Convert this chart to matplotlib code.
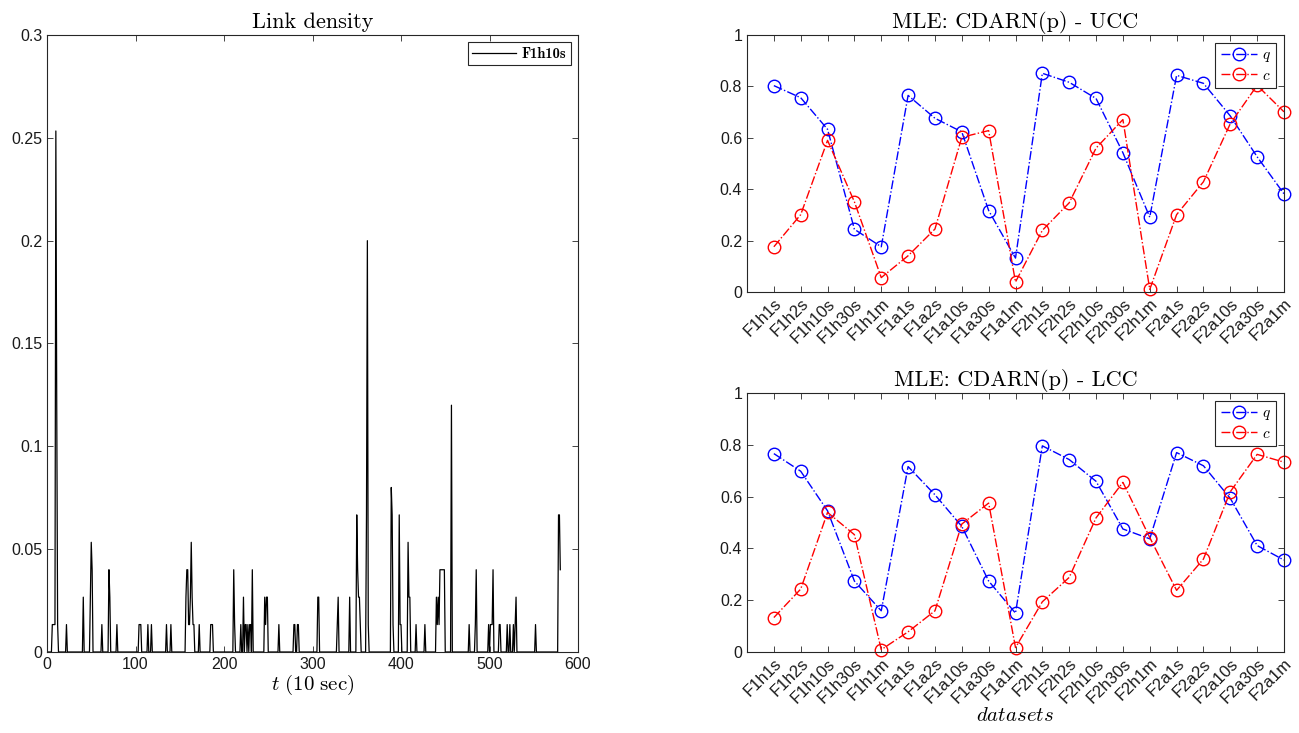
import numpy as np
import matplotlib
matplotlib.use("Agg")
import matplotlib.pyplot as plt

plt.rcParams["mathtext.fontset"] = "cm"
plt.rcParams["font.family"] = ["Liberation Sans", "DejaVu Sans"]

# ---- Link density time series (counts of active links out of 75 pairs) ----
n_steps = 581
link_pairs = 75
spike_times = [6, 7, 8, 9, 10, 11, 12,
               22, 41, 49, 50, 51, 62, 70, 71, 79,
               104, 105, 106, 114, 118, 135, 140,
               157, 158, 159, 160, 161, 162, 163, 164, 165, 166,
               172, 185, 186, 187, 211, 212, 219, 222,
               224, 225, 227, 229, 230, 232,
               246, 247, 248, 249, 262, 279, 280, 283, 284,
               306, 307, 328, 329, 342,
               350, 351, 352, 353, 354, 361, 362, 363,
               389, 390, 391, 398, 399, 400, 408, 409, 410, 417, 427,
               440, 441, 442, 443, 444, 445, 446, 447, 448, 449, 457,
               477, 484, 485, 499, 501, 502, 503, 504, 511, 512,
               520, 523, 527, 529, 530, 552, 578, 579, 580]
spike_counts = [1, 1, 1, 1, 19, 9, 1,
                1, 2, 2, 4, 3, 1, 3, 2, 1,
                1, 1, 1, 1, 1, 1, 1,
                2, 3, 3, 1, 1, 2, 4, 2, 1, 1,
                1, 1, 1, 1, 3, 1, 1, 2,
                1, 1, 1, 1, 1, 3,
                2, 1, 2, 2, 1, 1, 1, 1, 1,
                2, 2, 1, 2, 2,
                5, 3, 2, 2, 1, 5, 15, 1,
                6, 5, 1, 5, 1, 1, 4, 2, 2, 1, 1,
                2, 1, 2, 1, 3, 3, 3, 3, 3, 3, 9,
                1, 1, 3, 1, 1, 1, 1, 3, 1, 1,
                1, 1, 1, 1, 2, 1, 5, 5, 3]

# ---- MLE estimates of CDARN(p) parameters per dataset ----
datasets = ["F1h1s", "F1h2s", "F1h10s", "F1h30s", "F1h1m",
            "F1a1s", "F1a2s", "F1a10s", "F1a30s", "F1a1m",
            "F2h1s", "F2h2s", "F2h10s", "F2h30s", "F2h1m",
            "F2a1s", "F2a2s", "F2a10s", "F2a30s", "F2a1m"]
ucc_q = [0.803, 0.756, 0.633, 0.244, 0.176, 0.765, 0.676, 0.623, 0.317, 0.132,
         0.851, 0.816, 0.753, 0.542, 0.291, 0.843, 0.812, 0.685, 0.526, 0.382]
ucc_c = [0.176, 0.301, 0.590, 0.351, 0.056, 0.141, 0.245, 0.602, 0.628, 0.039,
         0.240, 0.347, 0.560, 0.671, 0.010, 0.301, 0.429, 0.655, 0.804, 0.701]
lcc_q = [0.766, 0.698, 0.545, 0.274, 0.159, 0.716, 0.607, 0.485, 0.274, 0.150,
         0.796, 0.743, 0.659, 0.475, 0.437, 0.770, 0.719, 0.593, 0.411, 0.355]
lcc_c = [0.133, 0.243, 0.539, 0.453, 0.009, 0.078, 0.159, 0.494, 0.575, 0.017,
         0.194, 0.288, 0.518, 0.655, 0.442, 0.238, 0.359, 0.619, 0.763, 0.733]

density = np.zeros(n_steps)
density[spike_times] = np.array(spike_counts) / link_pairs
t = np.arange(n_steps)

axis_gray = "#262626"
W, H = 1299, 733
fig = plt.figure(figsize=(W / 100, H / 100), dpi=100)


def style_axes(ax):
    for s in ax.spines.values():
        s.set_color(axis_gray)
        s.set_linewidth(0.8)
    ax.tick_params(direction="in", top=True, right=True, length=4,
                   width=0.6, colors=axis_gray, labelsize=11.5,
                   labelcolor="#1a1a1a")


# Left panel: link density over time
ax0 = fig.add_axes([47 / W, 1 - 652 / H, (578 - 47) / W, (652 - 35) / H])
ax0.plot(t, density, color="black", lw=0.9, label="F1h10s")
ax0.set_xlim(0, 600)
ax0.set_ylim(0, 0.3)
ax0.set_xticks(np.arange(0, 601, 100))
ax0.set_yticks([0, 0.05, 0.1, 0.15, 0.2, 0.25, 0.3])
ax0.set_yticklabels(["0", "0.05", "0.1", "0.15", "0.2", "0.25", "0.3"])
style_axes(ax0)
ax0.set_title("Link density", fontfamily="cmr10", fontsize=16, pad=5)
ax0.set_xlabel(r"$t\ \mathrm{(10\ sec)}$", fontsize=15, labelpad=1)
leg0 = ax0.legend(loc="upper right", prop={"family": "cmb10", "size": 10.5},
                  handlelength=3.0, borderpad=0.3, handletextpad=0.4,
                  fancybox=False, framealpha=1, borderaxespad=0.5)
leg0.get_frame().set_edgecolor(axis_gray)
leg0.get_frame().set_linewidth(0.8)

x_pos = np.arange(1, len(datasets) + 1)


def mle_panel(rect, q, c, title, xlabel=None):
    ax = fig.add_axes(rect)
    ax.plot(x_pos, q, linestyle="-.", color="#0000ff", marker="o",
            markersize=9, markerfacecolor="none", markeredgewidth=1.0,
            lw=1.0, label="$q$", clip_on=False)
    ax.plot(x_pos, c, linestyle="-.", color="#ff0000", marker="o",
            markersize=9, markerfacecolor="none", markeredgewidth=1.0,
            lw=1.0, label="$c$", clip_on=False)
    ax.set_xlim(0, 20)
    ax.set_ylim(0, 1)
    ax.set_xticks(x_pos)
    ax.set_xticklabels(datasets, rotation=45, ha="right",
                       rotation_mode="anchor")
    ax.set_yticks([0, 0.2, 0.4, 0.6, 0.8, 1])
    ax.set_yticklabels(["0", "0.2", "0.4", "0.6", "0.8", "1"])
    style_axes(ax)
    ax.tick_params(axis="x", pad=3, labelsize=12)
    ax.set_title(title, fontfamily="cmr10", fontsize=16, pad=5)
    if xlabel:
        ax.set_xlabel(xlabel, fontsize=15, labelpad=0)
    leg = ax.legend(loc="upper right", fontsize=11, handlelength=2.4,
                    borderpad=0.35, handletextpad=0.3, labelspacing=0.3,
                    fancybox=False, framealpha=1, borderaxespad=0.5)
    leg.get_frame().set_edgecolor(axis_gray)
    leg.get_frame().set_linewidth(0.8)
    return ax


mle_panel([747 / W, 1 - 292 / H, (1284 - 747) / W, (292 - 35) / H],
          ucc_q, ucc_c, "MLE: CDARN(p) - UCC")
mle_panel([747 / W, 1 - 652 / H, (1284 - 747) / W, (652 - 393) / H],
          lcc_q, lcc_c, "MLE: CDARN(p) - LCC", xlabel=r"$datasets$")

fig.savefig("out.png", dpi=100, facecolor="white")
